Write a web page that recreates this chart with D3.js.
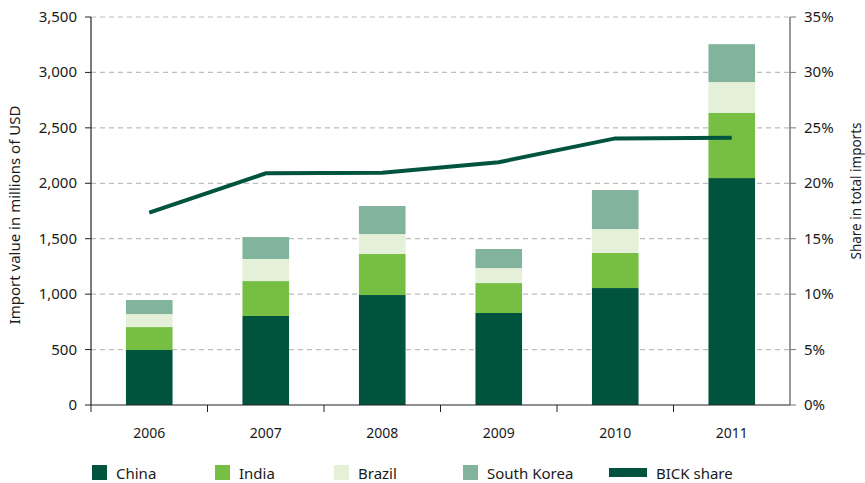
<!DOCTYPE html>
<html><head><meta charset="utf-8">
<script src="https://cdn.jsdelivr.net/npm/d3@7"></script>
<style>body{margin:0;background:#fff;} text{font-family:"Noto Sans",sans-serif;fill:#1a1a1a;}</style>
</head><body><svg id="c" width="865" height="483"></svg>
<script>
const years = ["2006","2007","2008","2009","2010","2011"];
const china = [496, 803, 992, 830, 1055, 2047];
const india = [207, 315, 370, 270, 316, 589];
const brazil = [117, 199, 180, 135, 216, 277];
const southKorea = [127, 198, 253, 172, 352, 342];
const bickShare = [17.35, 20.9, 20.95, 21.9, 24.05, 24.1];
const leftTicks = [0,500,1000,1500,2000,2500,3000,3500];
const rightTicks = [0,5,10,15,20,25,30,35];
const seriesNames = ["China","India","Brazil","South Korea"];
const colors = ["#00543e","#77bf43","#e4f1d8","#82b39c"];
const lineColor = "#00543e";

const svg = d3.select("#c");
const L=91, R=790, T=17, B=405;
const x = d3.scaleBand().domain(years).range([L,R]).paddingInner(0.6).paddingOuter(0.3);
const xb = d3.scaleBand().domain(years).range([L,R]);
const y = d3.scaleLinear().domain([0,3500]).range([B,T]);
const y2 = d3.scaleLinear().domain([0,35]).range([B,T]);

// grid
svg.append("g").selectAll("line").data(leftTicks.filter(d=>d>0)).join("line")
  .attr("x1",L).attr("x2",R).attr("y1",d=>y(d)).attr("y2",d=>y(d))
  .attr("stroke","#bdbdbd").attr("stroke-width",1.2).attr("stroke-dasharray","5,4");

// bars
const table = years.map((yr,i)=>({year:yr, China:china[i], India:india[i], Brazil:brazil[i], "South Korea":southKorea[i]}));
const stack = d3.stack().keys(seriesNames)(table);
svg.append("g").selectAll("g").data(stack).join("g").attr("fill",(d,i)=>colors[i])
  .selectAll("rect").data(d=>d).join("rect")
  .attr("x",d=>x(d.data.year)).attr("width",x.bandwidth())
  .attr("y",d=>y(d[1])).attr("height",d=>y(d[0])-y(d[1]));

// line
svg.append("path").datum(bickShare)
  .attr("d",d3.line().x((d,i)=>xb(years[i])+xb.bandwidth()/2).y(d=>y2(d)))
  .attr("fill","none").attr("stroke",lineColor).attr("stroke-width",4);

// axes
const ax = svg.append("g");
ax.append("line").attr("x1",L).attr("x2",L).attr("y1",T).attr("y2",B).attr("stroke","#222").attr("stroke-width",1.2);
ax.append("line").attr("x1",R).attr("x2",R).attr("y1",T).attr("y2",B).attr("stroke","#777").attr("stroke-width",1.5);
ax.append("line").attr("x1",L).attr("x2",R).attr("y1",B).attr("y2",B).attr("stroke","#222").attr("stroke-width",1.2);
ax.selectAll(".lt").data(leftTicks).join("line").attr("x1",L-6).attr("x2",L).attr("y1",d=>y(d)).attr("y2",d=>y(d)).attr("stroke","#222");
ax.selectAll(".ltx").data(leftTicks).join("text").attr("x",L-14).attr("y",d=>y(d)+5)
  .attr("text-anchor","end").attr("font-size",15).text(d=>d3.format(",")(d));
ax.selectAll(".rt").data(rightTicks).join("line").attr("x1",R).attr("x2",R+6).attr("y1",d=>y2(d)).attr("y2",d=>y2(d)).attr("stroke","#777");
ax.selectAll(".rtx").data(rightTicks).join("text").attr("x",R+14).attr("y",d=>y2(d)+5)
  .attr("font-size",15).text(d=>d+"%");
ax.selectAll(".xt").data(years).join("line").attr("x1",d=>xb(d)).attr("x2",d=>xb(d)).attr("y1",B).attr("y2",B+7).attr("stroke","#222");
ax.selectAll(".xtx").data(years).join("text").attr("x",d=>xb(d)+xb.bandwidth()/2).attr("y",438)
  .attr("text-anchor","middle").attr("font-size",14).text(d=>d);

svg.append("text").attr("transform","translate(20,215) rotate(-90)").attr("text-anchor","middle").attr("font-size",15).text("Import value in millions of USD");
svg.append("text").attr("transform","translate(861,191) rotate(-90)").attr("text-anchor","middle").attr("font-size",13.5).text("Share in total imports");

// legend
const lx = [92,215,334,463];
const lg = svg.append("g");
seriesNames.forEach((n,i)=>{
  lg.append("rect").attr("x",lx[i]).attr("y",465).attr("width",15).attr("height",15).attr("fill",colors[i]);
  lg.append("text").attr("x",lx[i]+24).attr("y",479).attr("font-size",15).text(n);
});
lg.append("rect").attr("x",609).attr("y",468).attr("width",38).attr("height",9).attr("fill",lineColor);
lg.append("text").attr("x",656).attr("y",479).attr("font-size",15).text("BICK share");
</script></body></html>
